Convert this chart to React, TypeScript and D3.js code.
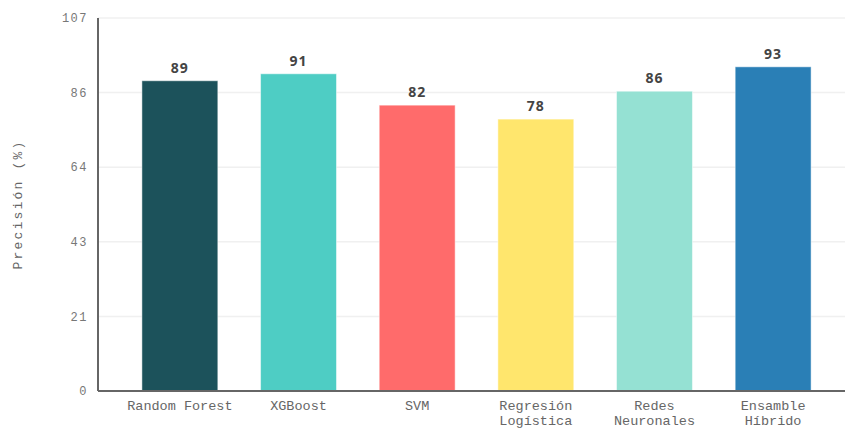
import React from "react";
import * as d3 from "d3";

const categories = ["Random Forest", "XGBoost", "SVM", "Regresión Logística", "Redes Neuronales", "Ensamble Híbrido"];
const labelLines = [["Random Forest"], ["XGBoost"], ["SVM"], ["Regresión", "Logística"], ["Redes", "Neuronales"], ["Ensamble", "Híbrido"]];
const values = [89, 91, 82, 78, 86, 93];
const colors = ["#1c525b", "#4ecdc4", "#ff6b6b", "#ffe66d", "#95e1d3", "#2a7fb6"];
const yMax = 107;

const W = 845, H = 428;
const left = 98, top = 18, bottom = 391;

export default function App() {
  const x = d3.scaleBand<string>().domain(categories).range([left, 855]).paddingInner(0.36).paddingOuter(0.37);
  const y = d3.scaleLinear().domain([0, yMax]).range([bottom, top]);
  const ticks = d3.range(0, 6).map((i) => (yMax * i) / 5);
  const mono = "'Liberation Mono', 'Courier New', monospace";
  return (
    <svg width={W} height={H} style={{ position: "absolute", left: 0, top: 0, background: "#fff" }}>
      {ticks.map((t, i) => (
        <g key={i}>
          <line x1={left} x2={W} y1={y(t)} y2={y(t)} stroke="#f0f0f0" strokeWidth={1.5} />
          <text x={left - 10} y={y(t)} dy="0.35em" textAnchor="end" fontFamily={mono} fontSize={12} fill="#777" letterSpacing={1.5}>
            {Math.round(t)}
          </text>
        </g>
      ))}
      {categories.map((c, i) => (
        <g key={c}>
          <rect x={x(c)} y={y(values[i])} width={x.bandwidth()} height={bottom - y(values[i])} fill={colors[i]} stroke="rgba(255,255,255,0.5)" strokeWidth={1} />
          <text x={x(c)! + x.bandwidth() / 2} y={y(values[i]) - 8} textAnchor="middle" fontFamily="'Open Sans', sans-serif" fontWeight="bold" fontSize={14} fill="#444" letterSpacing={1}>
            {values[i]}
          </text>
          {labelLines[i].map((l, j) => (
            <text key={j} x={x(c)! + x.bandwidth() / 2} y={410 + j * 15} textAnchor="middle" fontFamily={mono} fontSize={13.5} fill="#666">
              {l}
            </text>
          ))}
        </g>
      ))}
      <line x1={left} x2={left} y1={top} y2={bottom} stroke="#666" strokeWidth={2} />
      <line x1={left} x2={W} y1={bottom} y2={bottom} stroke="#666" strokeWidth={2} />
      <text transform={`translate(22,${(top + bottom) / 2}) rotate(-90)`} textAnchor="middle" fontFamily={mono} fontSize={13} fill="#666" letterSpacing={2.2}>
        Precisión (%)
      </text>
    </svg>
  );
}
